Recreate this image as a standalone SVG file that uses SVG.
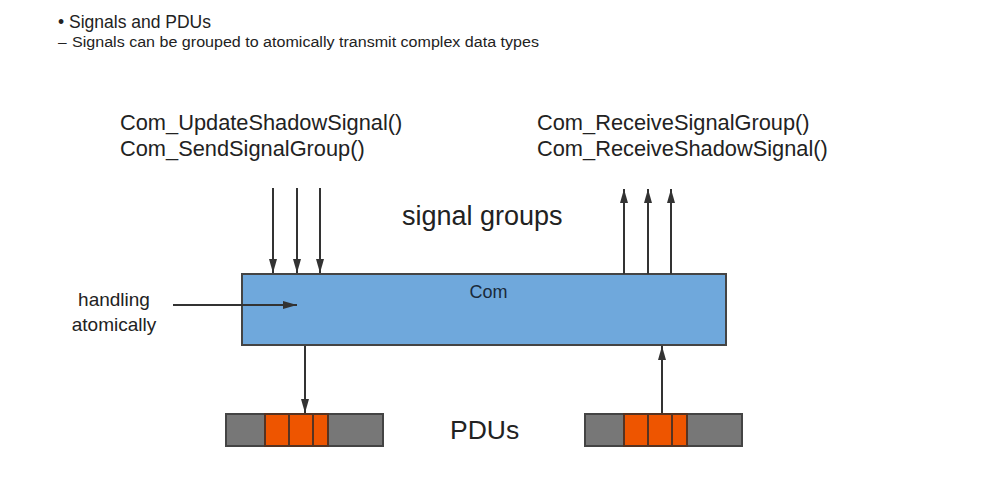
<svg xmlns="http://www.w3.org/2000/svg" width="995" height="489" viewBox="0 0 995 489">
<defs>
<style>
text{font-family:"Liberation Sans",Arial,sans-serif;fill:#222}
.conn{stroke:#333;stroke-width:2;fill:none}
.pdu{fill:#777;stroke:#444;stroke-width:2}
.cell{fill:#ee5500;stroke:#553322;stroke-width:2}
</style>
<marker id="ah" viewBox="0 0 14 8" refX="14" refY="4" markerWidth="7" markerHeight="4" markerUnits="strokeWidth" orient="auto">
<path d="M0,0 L14,4 L0,8 z" fill="#333"/>
</marker>
</defs>
<rect width="995" height="489" fill="#fff"/>
<g id="header">
<text x="58" y="28" font-size="17.5">• Signals and PDUs</text>
<text x="58" y="47" font-size="15.5">– <tspan x="72" textLength="467" lengthAdjust="spacingAndGlyphs">Signals can be grouped to atomically transmit complex data types</tspan></text>
</g>
<g id="send-api">
<text x="120" y="130" font-size="21.8">Com_UpdateShadowSignal()</text>
<text x="120" y="156" font-size="21.8">Com_SendSignalGroup()</text>
</g>
<g id="receive-api">
<text x="537" y="130" font-size="21.8">Com_ReceiveSignalGroup()</text>
<text x="537" y="156" font-size="21.8">Com_ReceiveShadowSignal()</text>
</g>
<g id="signal-groups-label">
<text x="402" y="225" font-size="27">signal groups</text>
</g>
<g id="com">
<rect x="242" y="274" width="484" height="71" fill="#6fa8dc" stroke="#444" stroke-width="2"/>
<text x="488.5" y="298" font-size="18" text-anchor="middle" style="fill:#1a2a3a">Com</text>
</g>
<g id="handling-label">
<text x="114" y="306" font-size="19" text-anchor="middle">handling</text>
<text x="114" y="331" font-size="19" text-anchor="middle">atomically</text>
</g>
<g id="pdu-left">
<rect class="pdu" x="226" y="414" width="157" height="32"/>
<rect class="cell" x="265" y="414" width="24" height="32"/>
<rect class="cell" x="289" y="414" width="24" height="32"/>
<rect class="cell" x="313" y="414" width="15" height="32"/>
</g>
<g id="pdu-right">
<rect class="pdu" x="585" y="414" width="157" height="32"/>
<rect class="cell" x="624" y="414" width="24" height="32"/>
<rect class="cell" x="648" y="414" width="24" height="32"/>
<rect class="cell" x="672" y="414" width="15" height="32"/>
</g>
<g id="pdus-label">
<text x="450" y="439" font-size="26.5">PDUs</text>
</g>
<g id="connectors">
<line class="conn" x1="273" y1="188" x2="273" y2="273" marker-end="url(#ah)"/>
<line class="conn" x1="297" y1="188" x2="297" y2="273" marker-end="url(#ah)"/>
<line class="conn" x1="320" y1="188" x2="320" y2="273" marker-end="url(#ah)"/>
<line class="conn" x1="624" y1="274" x2="624" y2="189" marker-end="url(#ah)"/>
<line class="conn" x1="648" y1="274" x2="648" y2="189" marker-end="url(#ah)"/>
<line class="conn" x1="671" y1="274" x2="671" y2="189" marker-end="url(#ah)"/>
<line class="conn" x1="173" y1="305" x2="297" y2="305" marker-end="url(#ah)"/>
<line class="conn" x1="305" y1="346" x2="305" y2="413" marker-end="url(#ah)"/>
<line class="conn" x1="662" y1="413" x2="662" y2="346" marker-end="url(#ah)"/>
</g>
</svg>
